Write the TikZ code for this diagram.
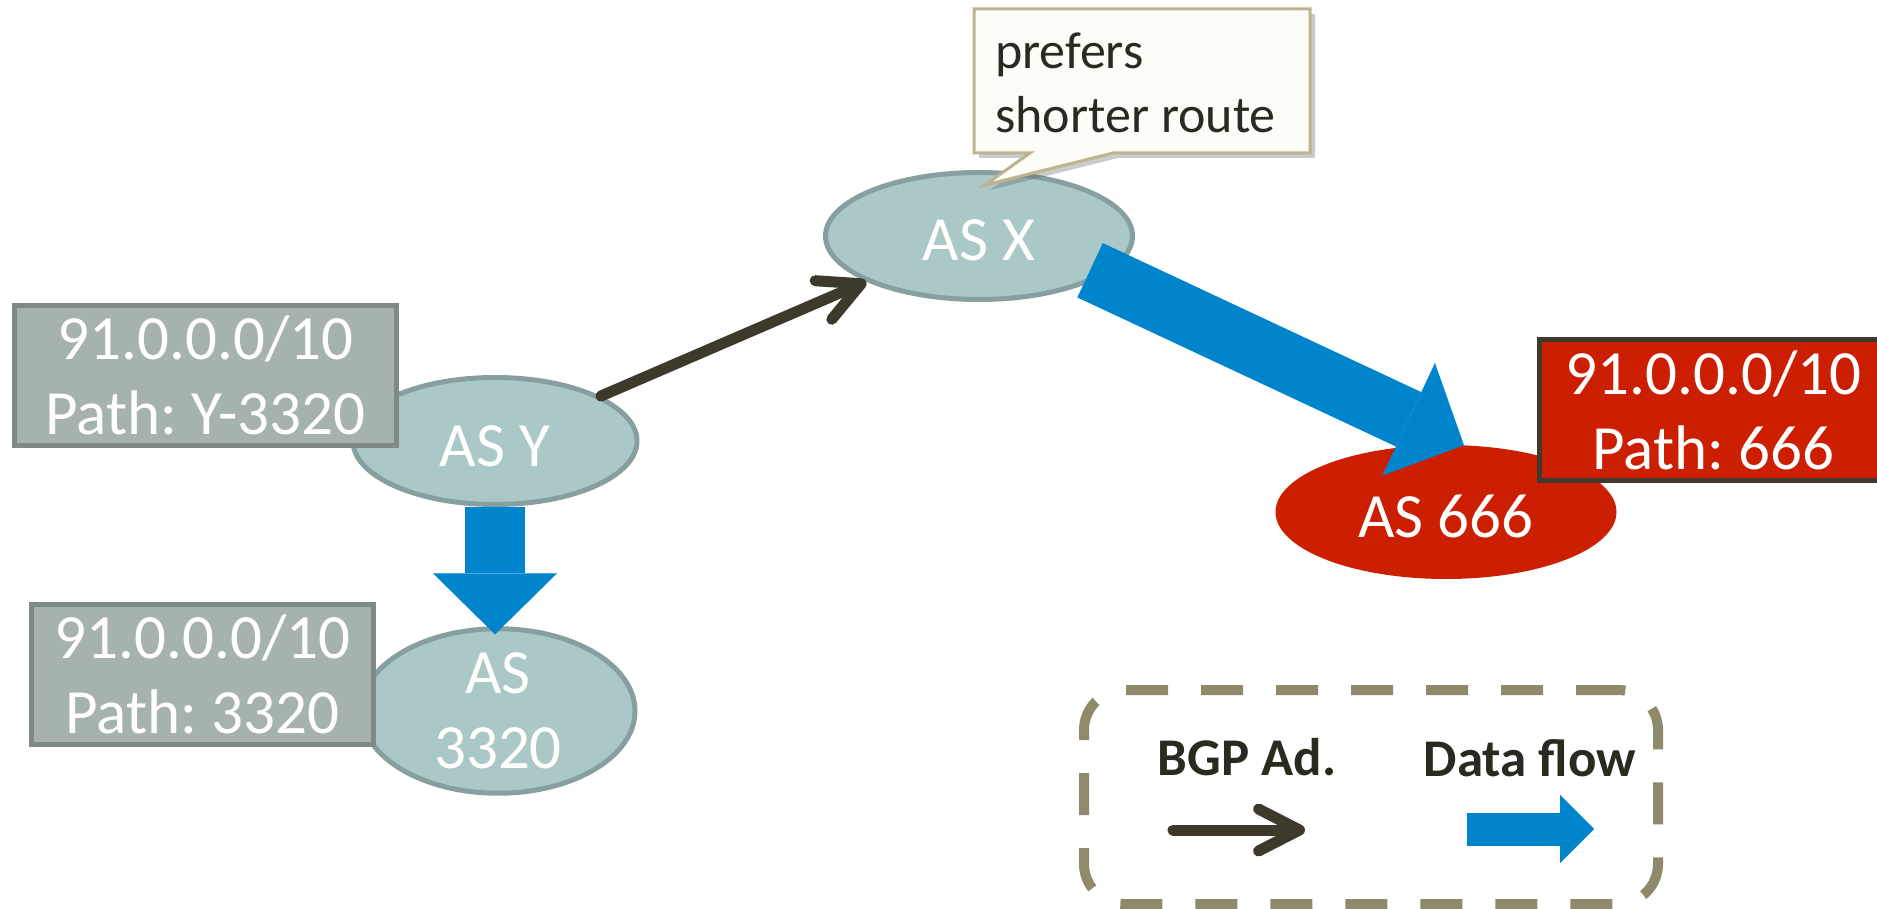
\documentclass[tikz,border=0pt]{standalone}
\usepackage{fontspec}
\setmainfont{Carlito}
\frenchspacing
\usetikzlibrary{arrows.meta,shapes.geometric,shadows}
\definecolor{asfill}{HTML}{ABC8C8}
\definecolor{asborder}{HTML}{87A09F}
\definecolor{boxfill}{HTML}{A6B2AD}
\definecolor{boxborder}{HTML}{7F8A85}
\definecolor{redfill}{HTML}{CC1E00}
\definecolor{redborder}{HTML}{3F3A2D}
\definecolor{flowblue}{HTML}{0085CC}
\definecolor{bgpblack}{HTML}{3D3A2C}
\definecolor{legdash}{HTML}{8F8A6C}
\definecolor{notefill}{HTML}{FDFCF7}
\definecolor{noteborder}{HTML}{BDB48F}
\definecolor{notetext}{HTML}{2B2A21}
\begin{document}
\begin{tikzpicture}[x=1pt,y=-1pt,
  bigfont/.style={font=\fontsize{63pt}{75pt}\selectfont},
  asnode/.style={ellipse, fill=asfill, draw=asborder, line width=5pt, inner sep=0pt, text=white, bigfont},
  oneline/.style={text height=50pt, text depth=0pt},
  pbox/.style={rectangle, fill=boxfill, draw=boxborder, line width=5pt, inner sep=0pt, text=white, bigfont, align=center},
  flow/.style={draw=flowblue, line width=60pt, -{Triangle[length=61pt,width=124pt,line width=0.01pt]}},
  legflow/.style={draw=flowblue, line width=33pt, -{Triangle[length=34pt,width=68pt,line width=0.01pt]}},
  bgp/.style={draw=bgpblack, line width=11pt, line cap=round, -{Straight Barb[length=41pt,width=42pt,round]}},
  legendbox/.style={rectangle, draw=legdash, line width=10pt, rounded corners=40pt, dash pattern=on 42pt off 33pt, inner sep=0pt},
  legtext/.style={text=notetext, font=\fontsize{53pt}{64pt}\selectfont\bfseries, inner sep=0pt, anchor=base},
  callout/.style={fill=notefill, draw=noteborder, line width=3pt, line join=miter, drop shadow={shadow xshift=5pt, shadow yshift=-5pt, opacity=0.35, fill=black!60}},
]
\useasboundingbox (0,0) rectangle (1877,909);

% AS ellipses
\node[asnode, oneline, minimum width=307pt, minimum height=127pt] (asx) at (979,236) {AS X};
\node[asnode, oneline, minimum width=284pt, minimum height=127pt] (asy) at (495,441) {AS Y};
\node[asnode, align=center, minimum width=274pt, minimum height=127pt] (as3320) at (498,711) {AS\\3320};
\node[ellipse, fill=redfill, inner sep=0pt, text=white, bigfont, oneline, minimum width=341pt, minimum height=134pt] (as666) at (1446,512) {AS 666};

% connectors
\draw[bgp] (asy.23.5) -- (asx.202);
\draw[flow, shorten <=-14pt] (asx.-18) -- (as666.75);
\draw[flow, shorten >=-8pt] (asy.south) -- (asy.south |- as3320.north);

% prefix boxes
\node[pbox, minimum width=382pt, minimum height=140pt] (boxy) at (205.5,375.5) {91.0.0.0/10\\Path: Y-3320};
\node[pbox, minimum width=342pt, minimum height=140pt] (box3320) at (202.5,674.5) {91.0.0.0/10\\Path: 3320};
\node[pbox, fill=redfill, draw=redborder, minimum width=348pt, minimum height=141pt] (box666) at (1713.5,410) {91.0.0.0/10\\Path: 666};

% callout
\draw[callout] (974,9) -- (1310,9) -- (1310,153) -- (1113,153) -- (985,185) -- (1030,153) -- (974,153) -- cycle;
\node[anchor=north west, inner sep=0pt, align=left, text=notetext, font=\fontsize{52pt}{64pt}\selectfont] (note) at (995,28) {\rule{0pt}{40pt}prefers\\shorter route};

% legend
\node[legendbox, minimum width=574pt, minimum height=214pt] (legend) at (1371,797) {};
\node[legtext] (legbgp) at (1247,775) {BGP Ad.};
\node[legtext] (legdata) at (1530,776) {Data flow};
\coordinate (lb1) at (1173,830);
\coordinate (lb2) at (1305,830);
\draw[bgp] (lb1) -- (lb2);
\coordinate (lf1) at (1467,829);
\coordinate (lf2) at (1594,829);
\draw[legflow] (lf1) -- (lf2);
\end{tikzpicture}
\end{document}
